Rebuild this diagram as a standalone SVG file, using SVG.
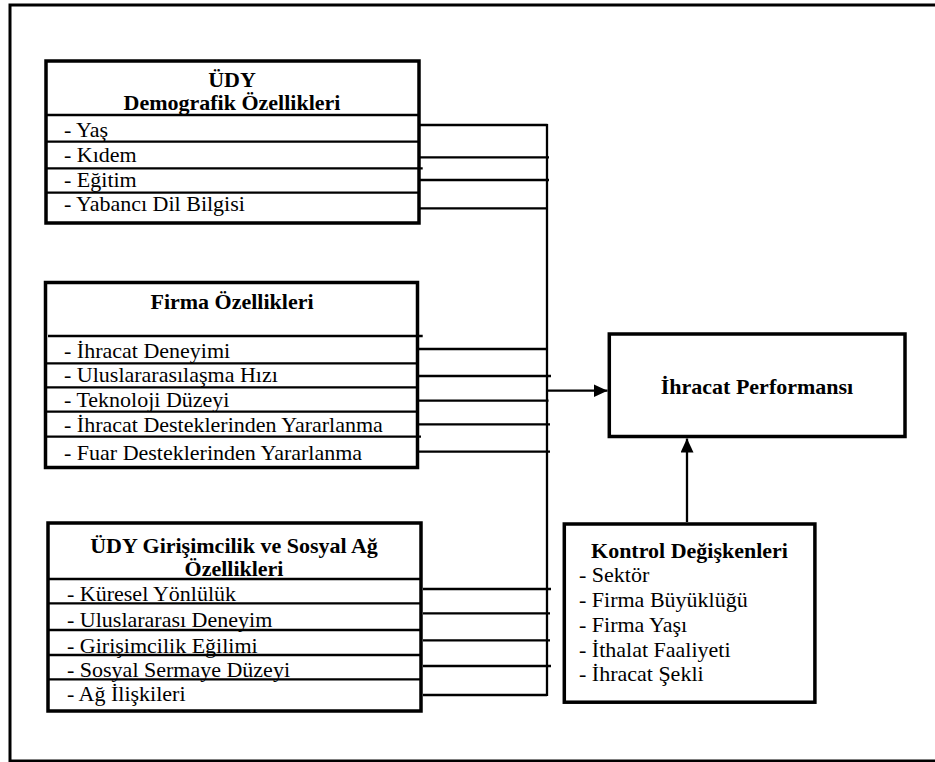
<svg xmlns="http://www.w3.org/2000/svg" width="935" height="762" viewBox="0 0 935 762">
<style>
.frame{fill:none;stroke:#000;stroke-width:3}
.box{fill:#fff;stroke:#000;stroke-width:3.5}
.row{stroke:#000;stroke-width:2.3;fill:none}
.conn{stroke:#000;stroke-width:2.3;fill:none}
text{font-family:"Liberation Serif","Times New Roman",serif;font-size:22px;fill:#000}
.b{font-weight:bold}
.c{text-anchor:middle}
</style>
<defs>
<marker id="arr" viewBox="0 0 14 13" refX="14" refY="6.5" markerWidth="14" markerHeight="13" markerUnits="userSpaceOnUse" orient="auto">
<path d="M0,0 L14,6.5 L0,13 z" fill="#000"/>
</marker>
</defs>
<rect width="935" height="762" fill="#fff"/>
<rect class="frame" x="10" y="5" width="940" height="756"/>

<g id="connectors">
<path class="conn" d="M419,125 H547.5 M419,157.3 H549 M419,180 H549 M417,208.3 H546"/>
<path class="conn" d="M419,349 H547.5 M419,376 H551 M419,400.7 H548.5 M419,424.3 H550 M419,451.7 H550"/>
<path class="conn" d="M423,589 H551 M423,613.3 H550 M423,640.3 H550 M423,666 H551 M423,695 H547"/>
<path class="conn" d="M547,124 V696"/>
<line class="conn" x1="547" y1="390.7" x2="607.5" y2="390.7" marker-end="url(#arr)"/>
<line class="conn" x1="687" y1="522" x2="687" y2="438.5" marker-end="url(#arr)"/>
</g>

<g id="udy-demografik">
<rect class="box" x="46" y="61" width="373" height="162"/>
<path class="row" d="M46,115 H419 M46,141.7 H419 M46,168.3 H422.7 M46,192.7 H419"/>
<text class="b c" x="232" y="87">ÜDY</text>
<text class="b c" x="232" y="110">Demografik Özellikleri</text>
<text x="64" y="136.5">- Yaş</text>
<text x="64" y="162.3">- Kıdem</text>
<text x="64" y="186.5">- Eğitim</text>
<text x="64" y="211">- Yabancı Dil Bilgisi</text>
</g>

<g id="firma">
<rect class="box" x="45.5" y="282.5" width="372" height="185"/>
<path class="row" d="M48,336 H422.7 M45.5,363.3 H417.5 M45.5,387.3 H417.5 M45.5,411.7 H417.5 M45.5,436.7 H421"/>
<text class="b c" x="232" y="309">Firma Özellikleri</text>
<text x="64" y="358">- İhracat Deneyimi</text>
<text x="64" y="382">- Uluslararasılaşma Hızı</text>
<text x="64" y="406.5">- Teknoloji Düzeyi</text>
<text x="64" y="431.5">- İhracat Desteklerinden Yararlanma</text>
<text x="64" y="460">- Fuar Desteklerinden Yararlanma</text>
</g>

<g id="udy-girisimcilik">
<rect class="box" x="48" y="523" width="373" height="188"/>
<path class="row" d="M48,579 H421 M48,603.3 H421 M48,630 H421 M48,655 H421 M48,679.3 H421"/>
<text class="b c" x="234" y="553">ÜDY Girişimcilik ve Sosyal Ağ</text>
<text class="b c" x="234" y="576">Özellikleri</text>
<text x="67" y="600.5">- Küresel Yönlülük</text>
<text x="67" y="626.5">- Uluslararası Deneyim</text>
<text x="67" y="652.5">- Girişimcilik Eğilimi</text>
<text x="67" y="677">- Sosyal Sermaye Düzeyi</text>
<text x="67" y="701">- Ağ İlişkileri</text>
</g>

<g id="ihracat-performansi">
<rect class="box" x="609.3" y="334" width="295.7" height="102.5"/>
<text class="b c" x="757" y="394">İhracat Performansı</text>
</g>

<g id="kontrol">
<rect class="box" x="564.3" y="524" width="250.6" height="178.2"/>
<text class="b c" x="689.5" y="557.5">Kontrol Değişkenleri</text>
<text x="579" y="582">- Sektör</text>
<text x="579" y="607">- Firma Büyüklüğü</text>
<text x="579" y="631.5">- Firma Yaşı</text>
<text x="579" y="656.5">- İthalat Faaliyeti</text>
<text x="579" y="681">- İhracat Şekli</text>
</g>
</svg>
